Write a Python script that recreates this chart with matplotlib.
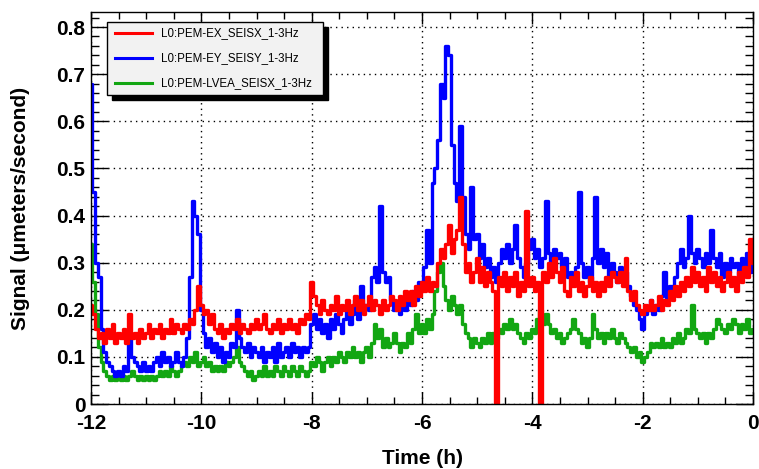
import numpy as np
import matplotlib
matplotlib.use("Agg")
import matplotlib.pyplot as plt
from matplotlib.patches import Rectangle
from matplotlib.lines import Line2D
from matplotlib.ticker import MultipleLocator, FuncFormatter

plt.rcParams['font.family'] = ['Liberation Sans', 'DejaVu Sans']
plt.rcParams['axes.unicode_minus'] = False

# sample times (hours), one value every 0.05 h from -12 to 0
hours = np.round(np.arange(-12, 0.0001, 0.05), 2)

# L0:PEM-EX_SEISX_1-3Hz
ex = [
    0.21, 0.19, 0.16, 0.14, 0.15, 0.13, 0.16, 0.14, 0.17, 0.13, 0.15, 0.14, 0.16, 0.13, 0.19, 0.14, 0.15, 0.13, 0.16, 0.14,
    0.15, 0.17, 0.14, 0.16, 0.15, 0.17, 0.14, 0.16, 0.15, 0.18, 0.15, 0.17, 0.16, 0.15, 0.17, 0.16, 0.18, 0.17, 0.20, 0.25,
    0.21, 0.19, 0.20, 0.17, 0.19, 0.16, 0.15, 0.17, 0.14, 0.16, 0.15, 0.17, 0.16, 0.18, 0.15, 0.17, 0.16, 0.15, 0.17, 0.16,
    0.18, 0.16, 0.17, 0.19, 0.16, 0.15, 0.17, 0.16, 0.18, 0.15, 0.17, 0.16, 0.18, 0.16, 0.17, 0.15, 0.18, 0.17, 0.19, 0.18,
    0.26, 0.23, 0.21, 0.19, 0.22, 0.20, 0.19, 0.21, 0.20, 0.23, 0.19, 0.21, 0.20, 0.22, 0.19, 0.21, 0.23, 0.20, 0.22, 0.19,
    0.21, 0.23, 0.20, 0.22, 0.21, 0.19, 0.22, 0.20, 0.21, 0.23, 0.22, 0.20, 0.23, 0.21, 0.24, 0.22, 0.24, 0.21, 0.25, 0.23,
    0.26, 0.24, 0.27, 0.24, 0.26, 0.25, 0.30, 0.33, 0.31, 0.34, 0.38, 0.32, 0.35, 0.37, 0.44, 0.34, 0.28, 0.30, 0.26, 0.28,
    0.31, 0.26, 0.29, 0.25, 0.28, 0.26, 0.24, 0.00, 0.27, 0.25, 0.28, 0.24, 0.27, 0.25, 0.28, 0.23, 0.26, 0.24, 0.41, 0.25,
    0.27, 0.24, 0.26, 0.00, 0.28, 0.26, 0.30, 0.27, 0.31, 0.28, 0.26, 0.29, 0.24, 0.23, 0.27, 0.25, 0.28, 0.24, 0.26, 0.23,
    0.25, 0.27, 0.24, 0.26, 0.23, 0.26, 0.24, 0.27, 0.25, 0.28, 0.27, 0.26, 0.28, 0.25, 0.31, 0.24, 0.22, 0.24, 0.21, 0.20,
    0.19, 0.21, 0.20, 0.22, 0.20, 0.21, 0.23, 0.20, 0.22, 0.21, 0.24, 0.22, 0.25, 0.23, 0.26, 0.24, 0.27, 0.25, 0.29, 0.26,
    0.28, 0.25, 0.27, 0.24, 0.29, 0.26, 0.28, 0.25, 0.27, 0.24, 0.26, 0.28, 0.25, 0.27, 0.24, 0.28, 0.26, 0.29, 0.27, 0.35,
    0.30,
]

# L0:PEM-EY_SEISY_1-3Hz
ey = [
    0.68, 0.45, 0.30, 0.27, 0.16, 0.11, 0.09, 0.08, 0.07, 0.06, 0.07, 0.06, 0.08, 0.07, 0.15, 0.10, 0.09, 0.08, 0.07, 0.09,
    0.07, 0.08, 0.07, 0.09, 0.10, 0.08, 0.11, 0.09, 0.10, 0.08, 0.09, 0.11, 0.09, 0.08, 0.10, 0.14, 0.27, 0.43, 0.40, 0.36,
    0.20, 0.15, 0.12, 0.14, 0.11, 0.13, 0.10, 0.12, 0.09, 0.11, 0.10, 0.13, 0.12, 0.20, 0.14, 0.12, 0.11, 0.13, 0.10, 0.12,
    0.11, 0.10, 0.12, 0.09, 0.11, 0.10, 0.12, 0.09, 0.13, 0.10, 0.11, 0.12, 0.10, 0.13, 0.11, 0.12, 0.10, 0.12, 0.11, 0.12,
    0.17, 0.19, 0.16, 0.18, 0.15, 0.17, 0.14, 0.18, 0.16, 0.19, 0.17, 0.15, 0.18, 0.20, 0.17, 0.19, 0.22, 0.18, 0.25, 0.20,
    0.21, 0.20, 0.27, 0.29, 0.26, 0.42, 0.28, 0.26, 0.27, 0.22, 0.20, 0.21, 0.19, 0.22, 0.20, 0.23, 0.21, 0.24, 0.22, 0.26,
    0.26, 0.29, 0.37, 0.30, 0.47, 0.50, 0.56, 0.68, 0.65, 0.76, 0.74, 0.55, 0.47, 0.43, 0.59, 0.44, 0.36, 0.33, 0.46, 0.35,
    0.36, 0.31, 0.34, 0.29, 0.31, 0.27, 0.29, 0.26, 0.30, 0.33, 0.31, 0.34, 0.30, 0.33, 0.38, 0.31, 0.29, 0.27, 0.30, 0.33,
    0.35, 0.31, 0.33, 0.29, 0.31, 0.43, 0.32, 0.30, 0.33, 0.31, 0.32, 0.29, 0.31, 0.27, 0.28, 0.26, 0.29, 0.45, 0.30, 0.27,
    0.29, 0.26, 0.31, 0.44, 0.30, 0.33, 0.29, 0.32, 0.27, 0.30, 0.28, 0.26, 0.29, 0.27, 0.28, 0.25, 0.23, 0.21, 0.20, 0.18,
    0.16, 0.19, 0.20, 0.22, 0.19, 0.21, 0.20, 0.23, 0.28, 0.22, 0.25, 0.23, 0.27, 0.30, 0.33, 0.29, 0.31, 0.40, 0.32, 0.30,
    0.33, 0.31, 0.29, 0.32, 0.30, 0.37, 0.31, 0.29, 0.32, 0.27, 0.30, 0.28, 0.31, 0.29, 0.30, 0.27, 0.31, 0.29, 0.32, 0.28,
    0.30,
]

# L0:PEM-LVEA_SEISX_1-3Hz
lvea = [
    0.34, 0.26, 0.19, 0.12, 0.09, 0.07, 0.06, 0.05, 0.06, 0.05, 0.06, 0.05, 0.06, 0.05, 0.06, 0.07, 0.06, 0.05, 0.06, 0.05,
    0.06, 0.05, 0.06, 0.05, 0.06, 0.07, 0.06, 0.07, 0.06, 0.08, 0.07, 0.06, 0.07, 0.08, 0.09, 0.08, 0.10, 0.09, 0.11, 0.08,
    0.09, 0.10, 0.08, 0.09, 0.07, 0.08, 0.07, 0.08, 0.07, 0.09, 0.08, 0.09, 0.10, 0.12, 0.09, 0.08, 0.07, 0.06, 0.07, 0.05,
    0.06, 0.07, 0.06, 0.08, 0.06, 0.07, 0.06, 0.08, 0.07, 0.06, 0.08, 0.07, 0.06, 0.08, 0.07, 0.06, 0.08, 0.07, 0.06, 0.07,
    0.09, 0.08, 0.10, 0.09, 0.07, 0.09, 0.10, 0.08, 0.10, 0.09, 0.11, 0.10, 0.09, 0.11, 0.10, 0.12, 0.10, 0.11, 0.09, 0.11,
    0.12, 0.10, 0.13, 0.17, 0.14, 0.16, 0.12, 0.14, 0.12, 0.13, 0.15, 0.13, 0.11, 0.13, 0.12, 0.15, 0.13, 0.16, 0.19, 0.15,
    0.17, 0.15, 0.18, 0.16, 0.19, 0.24, 0.28, 0.30, 0.25, 0.22, 0.20, 0.23, 0.21, 0.19, 0.21, 0.17, 0.15, 0.14, 0.12, 0.14,
    0.13, 0.12, 0.14, 0.13, 0.15, 0.13, 0.15, 0.14, 0.16, 0.15, 0.17, 0.16, 0.18, 0.16, 0.17, 0.15, 0.14, 0.13, 0.15, 0.14,
    0.16, 0.15, 0.18, 0.20, 0.17, 0.19, 0.17, 0.15, 0.16, 0.14, 0.15, 0.13, 0.14, 0.15, 0.16, 0.18, 0.16, 0.15, 0.13, 0.14,
    0.12, 0.14, 0.19, 0.16, 0.14, 0.15, 0.13, 0.15, 0.14, 0.16, 0.14, 0.13, 0.15, 0.14, 0.13, 0.12, 0.11, 0.12, 0.10, 0.11,
    0.09, 0.10, 0.11, 0.13, 0.12, 0.13, 0.12, 0.14, 0.12, 0.13, 0.12, 0.14, 0.13, 0.15, 0.13, 0.14, 0.16, 0.15, 0.21, 0.16,
    0.15, 0.14, 0.15, 0.13, 0.15, 0.14, 0.16, 0.18, 0.17, 0.16, 0.15, 0.17, 0.16, 0.18, 0.17, 0.15, 0.17, 0.16, 0.18, 0.15,
    0.16,
]

series_labels = ["L0:PEM-EX_SEISX_1-3Hz", "L0:PEM-EY_SEISY_1-3Hz", "L0:PEM-LVEA_SEISX_1-3Hz"]
series_values = [ex, ey, lvea]
series_colors = ["#ff0000", "#0000ff", "#12a612"]

W, H = 759, 469
fig = plt.figure(figsize=(W / 100, H / 100), dpi=100)
ax = fig.add_axes([91 / W, 65 / H, 662 / W, 392 / H])

# draw green first, then blue, then red on top
for vals, col, z in zip(series_values[::-1], series_colors[::-1], [3, 4, 5]):
    ax.plot(hours, vals, color=col, lw=2.4, drawstyle='steps-mid', zorder=z)

ax.set_xlim(-12, 0)
ax.set_ylim(0, 0.832)
ax.xaxis.set_major_locator(MultipleLocator(2))
ax.xaxis.set_minor_locator(MultipleLocator(0.5))
ax.yaxis.set_major_locator(MultipleLocator(0.1))
ax.yaxis.set_minor_locator(MultipleLocator(0.02))
ax.xaxis.set_major_formatter(FuncFormatter(lambda v, p: f"{v:g}"))
ax.yaxis.set_major_formatter(FuncFormatter(lambda v, p: "0" if abs(v) < 1e-9 else f"{v:.1f}"))

ax.tick_params(which='both', direction='in', top=True, right=True, color='black', width=1)
ax.tick_params(axis='x', which='major', length=8.6, pad=7)
ax.tick_params(axis='x', which='minor', length=5)
ax.tick_params(axis='y', which='major', length=12, pad=4)
ax.tick_params(axis='y', which='minor', length=5.8)
for lab in ax.get_xticklabels() + ax.get_yticklabels():
    lab.set_fontsize(15)
    lab.set_fontweight('bold')

ax.grid(True, which='major', color='black', linestyle=(0, (1, 3)), linewidth=1.0, zorder=1)
ax.set_axisbelow(True)
for s in ax.spines.values():
    s.set_linewidth(1.0)
    s.set_zorder(6)

fig.text(422 / W, 1 - 458 / H, "Time (h)", ha='center', va='center', fontsize=15, fontweight='bold')
fig.text(21 / W, 1 - 208 / H, "Signal (\u03bcmeters/second)", ha='center', va='center',
         rotation=90, fontsize=15, fontweight='bold')

# legend (ROOT style box with shadow)
bx0, by0, bx1, by1 = 107, 22, 323, 95
shadow = Rectangle(((bx0 + 5) / W, 1 - (by1 + 5) / H), (bx1 - bx0) / W, (by1 - by0) / H,
                   transform=fig.transFigure, facecolor='black', edgecolor='black', zorder=10)
fig.add_artist(shadow)
box = Rectangle((bx0 / W, 1 - by1 / H), (bx1 - bx0) / W, (by1 - by0) / H, transform=fig.transFigure,
                facecolor='#f2f2f2', edgecolor='black', linewidth=1.0, zorder=11)
fig.add_artist(box)
for i, (lab, col) in enumerate(zip(series_labels, series_colors)):
    yy = 1 - (33 + 25 * i) / H
    fig.add_artist(Line2D([115 / W, 152 / W], [yy, yy], transform=fig.transFigure,
                          color=col, lw=2.2, zorder=12))
    fig.text(161 / W, yy, lab, ha='left', va='center', fontsize=8.3, zorder=12)

fig.savefig("out.png", dpi=100)
